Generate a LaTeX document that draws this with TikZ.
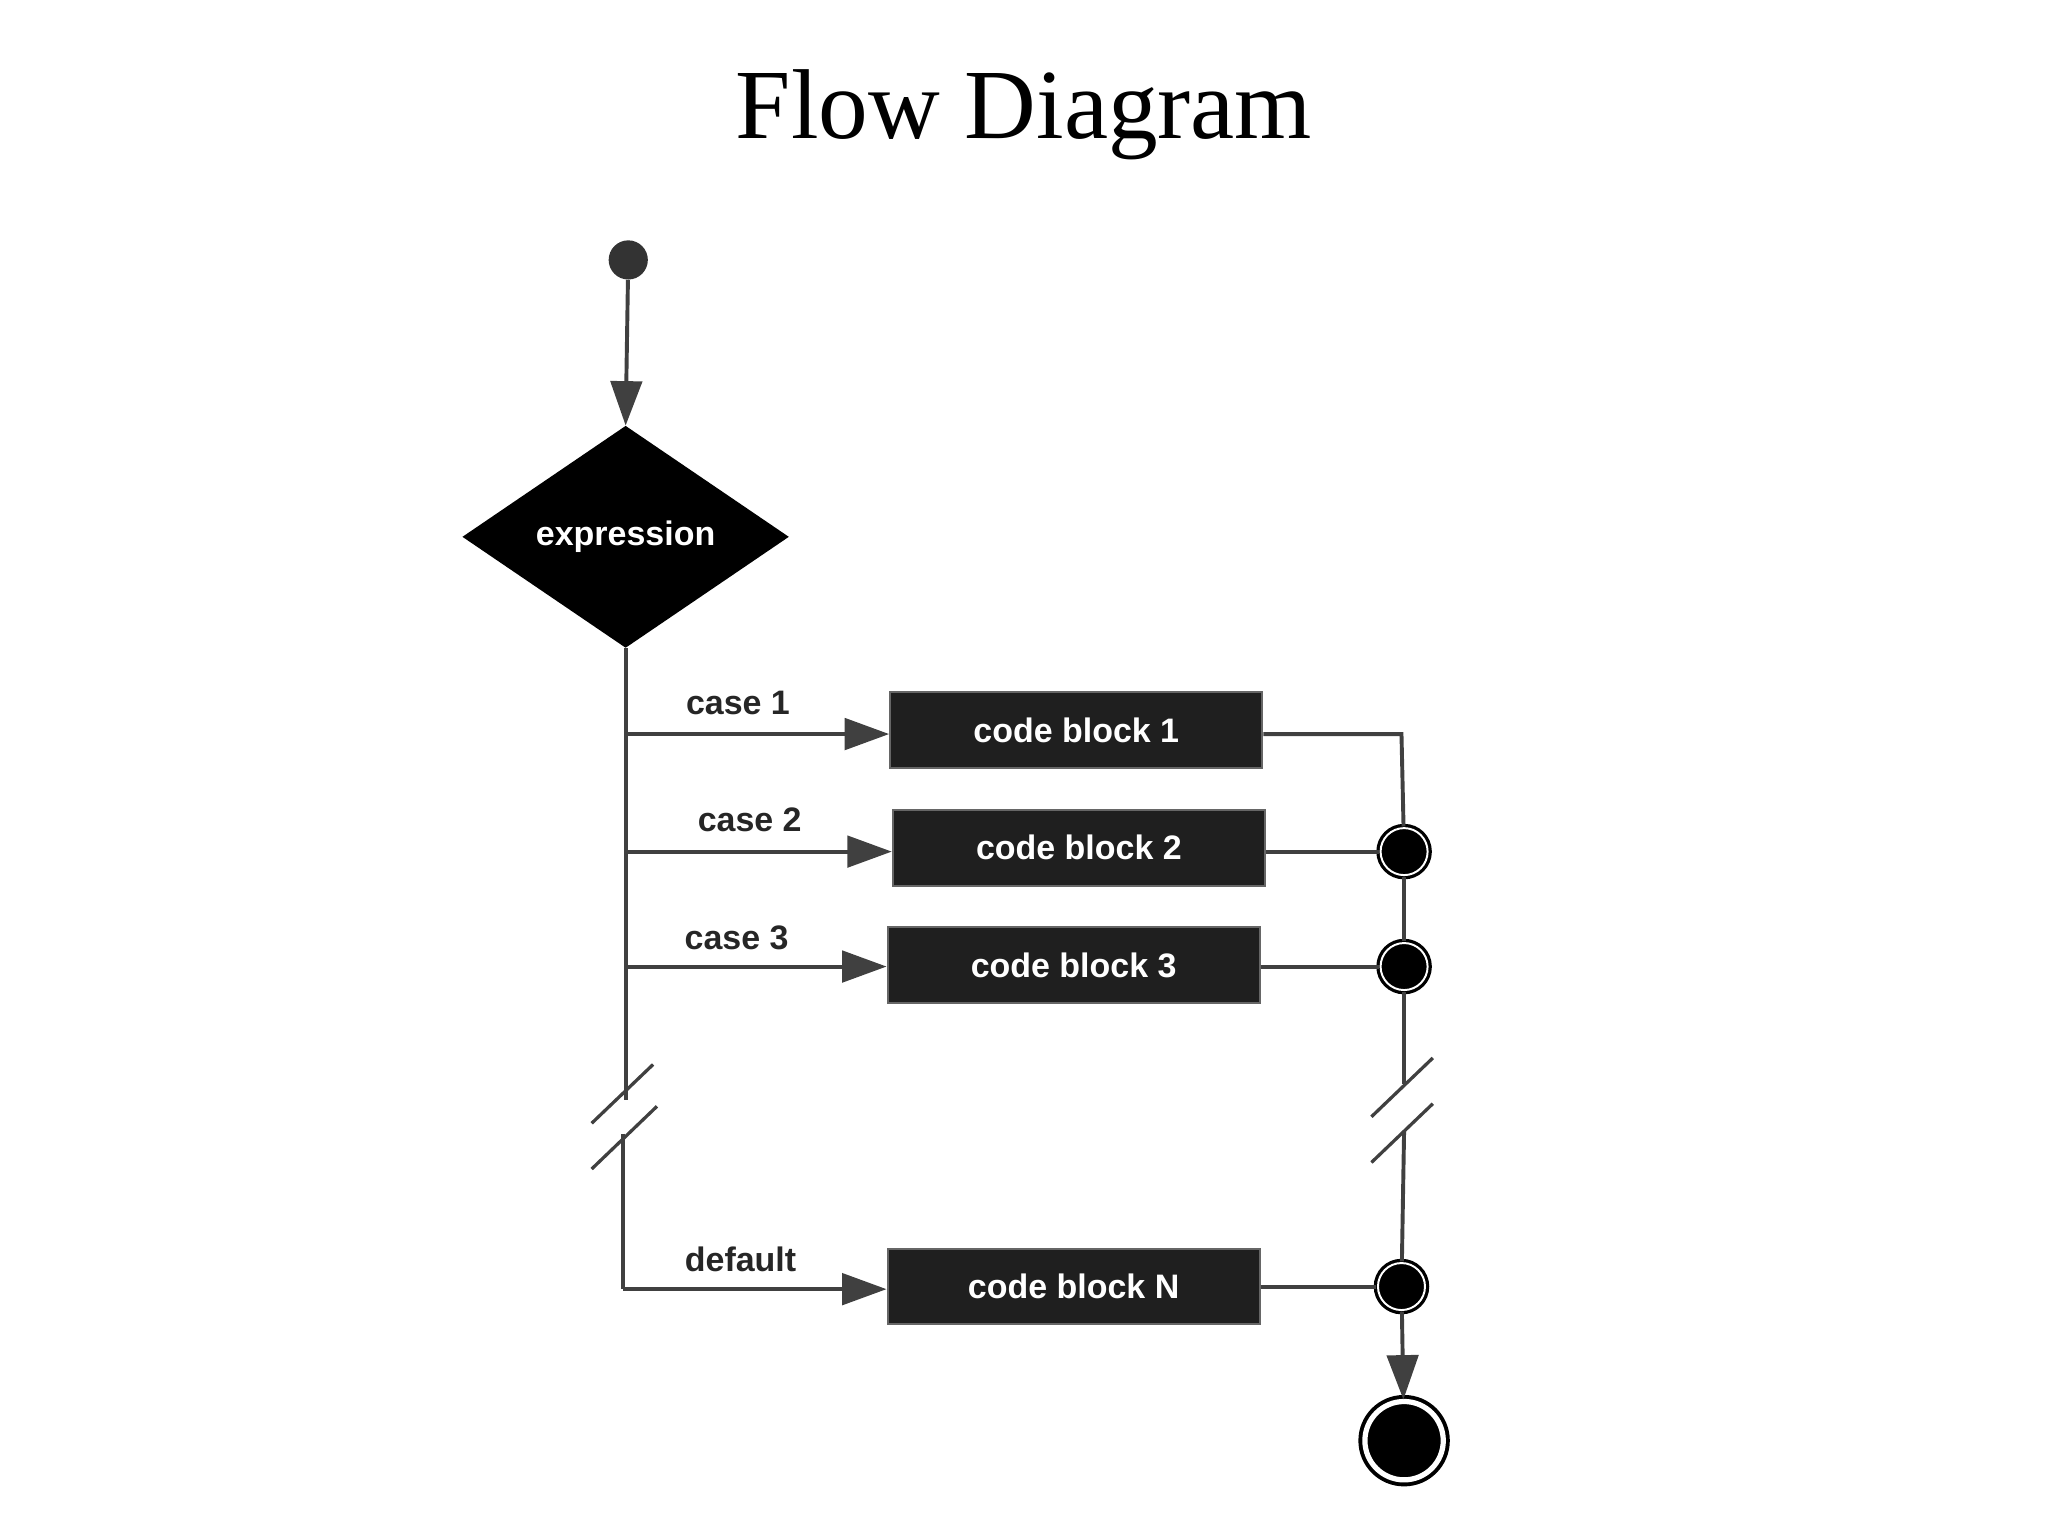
\documentclass[tikz,border=0pt]{standalone}
\usepackage{fontspec}
\setmainfont{Liberation Serif}
\newfontfamily\lab{Liberation Sans}
\usetikzlibrary{arrows.meta,shapes.geometric}
\begin{document}
\begin{tikzpicture}[x=1pt,y=-1pt,
 ln/.style={draw=black!75,line width=3pt},
 arr/.style={ln,-{Triangle[length=34pt,width=24pt]}},
 blk/.style={draw=black!60,line width=1.5pt,fill=black!88,minimum width=285pt,minimum height=58pt,text=white,font=\lab\bfseries\fontsize{26}{30}\selectfont},
 lbl/.style={font=\lab\bfseries\fontsize{26}{30}\selectfont,text=black!85},
 junc/.style={circle,draw=black,line width=2.5pt,fill=black,minimum size=36pt,inner sep=0pt,double=white,double distance=1.5pt},
 brk/.style={draw=black!75,line width=2.5pt}]
\useasboundingbox (0,0) rectangle (1568,1176);
\node[font=\fontsize{76}{80}\selectfont] (title) at (784,88) {Flow Diagram};
\node[circle,fill=black!80,minimum size=30pt,inner sep=0pt] (start) at (481,199) {};
\node[diamond,fill=black,minimum width=250pt,minimum height=170pt,inner sep=0pt,text=white,font=\lab\bfseries\fontsize{26}{30}\selectfont] (expr) at (479,411) {expression};
\draw[arr] (start) -- (expr.north);
\node[blk] (b1) at (824,559) {code block 1};
\node[blk] (b2) at (826,649) {code block 2};
\node[blk] (b3) at (822,739) {code block 3};
\node[blk] (bN) at (822,985) {code block N};
\coordinate (l1) at (479,562);
\coordinate (l2) at (479,652);
\coordinate (l3) at (479,740);
\coordinate (lbA) at (479,842);
\coordinate (lbB) at (477,868);
\coordinate (lN) at (477,987);
\draw[ln] (expr.south) -- (lbA);
\draw[ln] (lbB) -- (lN);
\draw[arr] (l1) -- (b1.west|-l1);
\draw[arr] (l2) -- (b2.west|-l2);
\draw[arr] (l3) -- (b3.west|-l3);
\draw[arr] (lN) -- (bN.west|-lN);
\node[lbl] (c1) at (565,538) {case 1};
\node[lbl] (c2) at (574,628) {case 2};
\node[lbl] (c3) at (564,718) {case 3};
\node[lbl] (cd) at (567,964) {default};
\draw[brk] (453,860) -- (500,815);
\draw[brk] (453,895) -- (503,847);
\node[junc] (j2) at (1075,652) {};
\node[junc] (j3) at (1075,740) {};
\node[junc] (jN) at (1073,985) {};
\coordinate (r1) at (1073,562);
\coordinate (rbA) at (1075,830);
\coordinate (rbB) at (1075,866);
\node[circle,draw=black,line width=3pt,fill=black,minimum size=60pt,inner sep=0pt,double=white,double distance=4pt] (end) at (1075,1103) {};
\draw[ln] (b1.east|-r1) -- (r1) -- (j2);
\draw[ln] (b2.east|-j2) -- (j2);
\draw[ln] (j2) -- (j3);
\draw[ln] (b3.east|-j3) -- (j3);
\draw[ln] (j3) -- (rbA);
\draw[ln] (rbB) -- (jN);
\draw[ln] (bN.east|-jN) -- (jN);
\draw[arr] (jN) -- (end);
\draw[brk] (1050,855) -- (1097,810);
\draw[brk] (1050,890) -- (1097,845);
\end{tikzpicture}
\end{document}
